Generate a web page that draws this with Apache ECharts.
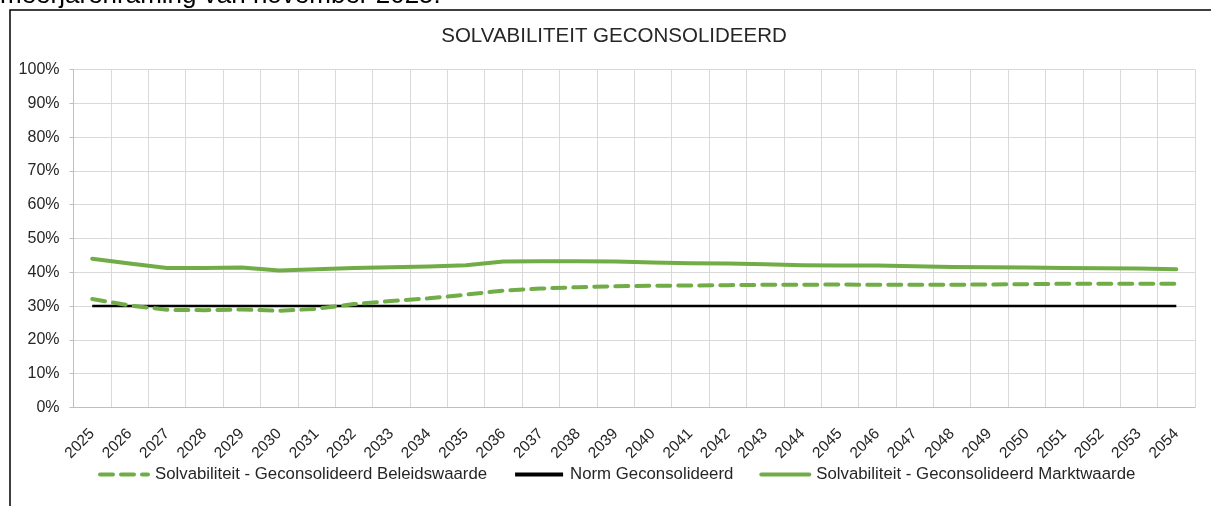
<!DOCTYPE html>
<html>
<head>
<meta charset="utf-8">
<script src="https://cdn.jsdelivr.net/npm/echarts@6/dist/echarts.min.js"></script>
<style>
  html, body { margin: 0; padding: 0; background: #fff; }
  #chart { width: 1211px; height: 506px; }
</style>
</head>
<body>
<div id="chart"></div>
<script>
// years on the x axis
const years = [
  '2025', '2026', '2027', '2028', '2029', '2030', '2031', '2032', '2033', '2034',
  '2035', '2036', '2037', '2038', '2039', '2040', '2041', '2042', '2043', '2044',
  '2045', '2046', '2047', '2048', '2049', '2050', '2051', '2052', '2053', '2054',
]
// percentages
const beleidswaarde = [
  32.1, 30.2, 28.9, 28.8, 29.0, 28.6, 29.2, 30.6, 31.5, 32.3,
  33.4, 34.6, 35.2, 35.6, 35.9, 36.0, 36.1, 36.2, 36.3, 36.3,
  36.4, 36.3, 36.3, 36.3, 36.4, 36.5, 36.6, 36.6, 36.6, 36.6,
]
const norm = [
  30, 30, 30, 30, 30, 30, 30, 30, 30, 30,
  30, 30, 30, 30, 30, 30, 30, 30, 30, 30,
  30, 30, 30, 30, 30, 30, 30, 30, 30, 30,
]
const marktwaarde = [
  44.0, 42.6, 41.3, 41.3, 41.4, 40.5, 40.9, 41.3, 41.5, 41.7,
  42.1, 43.2, 43.3, 43.3, 43.2, 42.9, 42.7, 42.6, 42.4, 42.1,
  42.0, 42.0, 41.8, 41.6, 41.5, 41.4, 41.3, 41.2, 41.1, 40.9,
]
const yTicks = [0, 10, 20, 30, 40, 50, 60, 70, 80, 90, 100]

const FONT = '"Liberation Sans", Arial, sans-serif'
const GREEN = '#70ad47'
const TEXT = '#262626'

const chart = echarts.init(document.getElementById('chart'), null, { renderer: 'canvas' })

chart.setOption({
  animation: false,
  textStyle: { fontFamily: FONT },
  graphic: [
    {
      // caption above the chart, cut off by the screenshot
      type: 'text', x: 0, y: 9, silent: true,
      style: {
        text: 'meerjarenraming van november 2025.', font: '26px ' + FONT, fill: '#000',
        verticalAlign: 'bottom',
      },
    },
    {
      type: 'rect', silent: true,
      shape: { x: 10, y: 10, width: 1400, height: 700 },
      style: { fill: 'none', stroke: '#000', lineWidth: 1.5 },
    },
    {
      type: 'text', x: 614, y: 36, silent: true,
      style: {
        text: 'SOLVABILITEIT GECONSOLIDEERD', font: '20.5px ' + FONT, fill: TEXT,
        align: 'center', verticalAlign: 'middle',
      },
    },
  ],
  grid: { left: 73.5, right: 16, top: 69.5, bottom: 98.5, containLabel: false },
  legend: {
    left: 98, top: 466, padding: 0, itemGap: 26,
    itemWidth: 48, itemHeight: 14,
    itemStyle: { opacity: 0 },
    lineStyle: { width: 4 },
    textStyle: { fontSize: 16.8, color: TEXT, fontFamily: FONT, padding: [0, 0, 0, 2] },
    data: [
      'Solvabiliteit - Geconsolideerd Beleidswaarde',
      'Norm Geconsolideerd',
      'Solvabiliteit - Geconsolideerd Marktwaarde',
    ],
  },
  xAxis: {
    type: 'category',
    data: years,
    boundaryGap: true,
    axisLine: { lineStyle: { color: '#bfbfbf', width: 1 } },
    axisTick: { show: false },
    splitLine: { show: true, lineStyle: { color: '#d9d9d9', width: 1 } },
    axisLabel: {
      interval: 0, rotate: 45, margin: 24,
      fontSize: 15.5, color: TEXT, fontFamily: FONT,
    },
  },
  yAxis: {
    type: 'value',
    min: yTicks[0], max: yTicks[yTicks.length - 1], interval: 10,
    axisLine: { show: true, lineStyle: { color: '#bfbfbf', width: 1 } },
    axisTick: { show: true, length: 4, lineStyle: { color: '#bfbfbf' } },
    splitLine: { lineStyle: { color: '#d9d9d9', width: 1 } },
    axisLabel: {
      margin: 14, fontSize: 16, color: TEXT, fontFamily: FONT,
      formatter: v => v + '%',
    },
  },
  series: [
    {
      name: 'Solvabiliteit - Geconsolideerd Beleidswaarde',
      type: 'line', data: beleidswaarde, symbol: 'none', z: 3,
      lineStyle: { color: GREEN, width: 4, type: [13, 8], cap: 'round', join: 'round' },
      itemStyle: { color: GREEN },
    },
    {
      name: 'Norm Geconsolideerd',
      type: 'line', data: norm, symbol: 'none', z: 2,
      lineStyle: { color: '#000', width: 2.5 },
      itemStyle: { color: '#000' },
    },
    {
      name: 'Solvabiliteit - Geconsolideerd Marktwaarde',
      type: 'line', data: marktwaarde, symbol: 'none', z: 4,
      lineStyle: { color: GREEN, width: 4, cap: 'round', join: 'round' },
      itemStyle: { color: GREEN },
    },
  ],
})
</script>
</body>
</html>
